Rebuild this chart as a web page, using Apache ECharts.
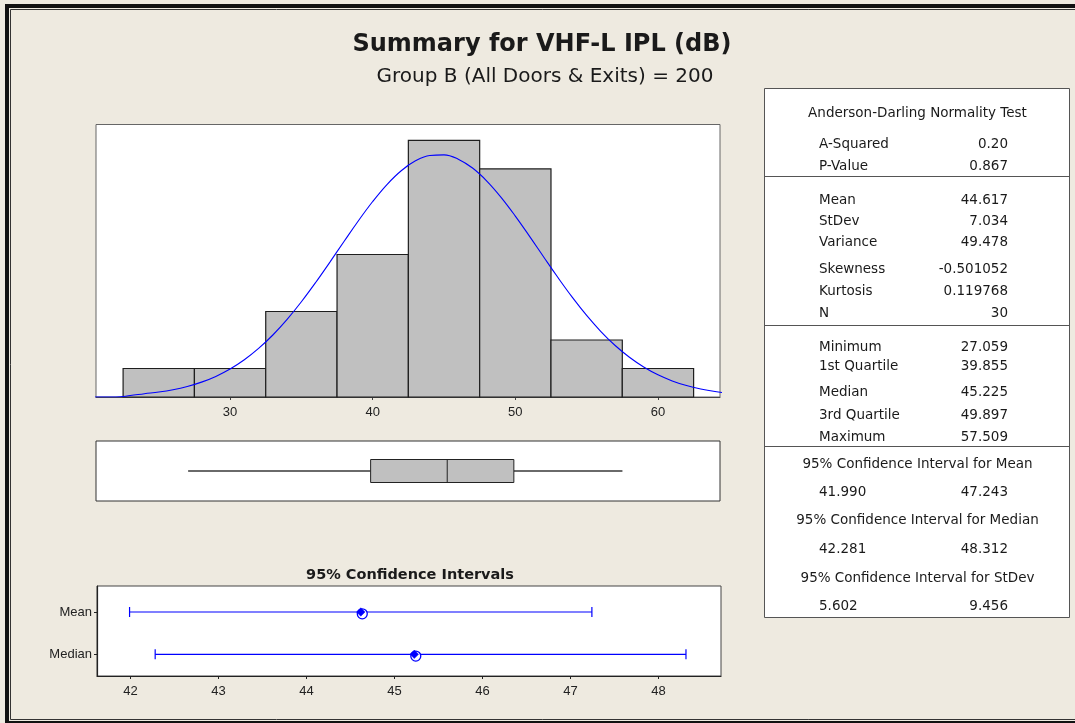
<!DOCTYPE html>
<html>
<head>
<meta charset="utf-8">
<script src="https://cdn.jsdelivr.net/npm/echarts@6/dist/echarts.min.js"></script>
<style>
html,body{margin:0;padding:0;background:#EEEAE0;}
#chart{width:1075px;height:723px;}
</style>
</head>
<body>
<div id="chart"></div>
<script>
// ---------------- data ----------------
const chartTitle = 'Summary for VHF-L IPL (dB)';
const chartSubtitle = 'Group B (All Doors & Exits) = 200';
const ciPlotTitle = '95% Confidence Intervals';

const binEdges = [22.5, 27.5, 32.5, 37.5, 42.5, 47.5, 52.5, 57.5, 62.5];
const binCounts = [1, 1, 3, 5, 9, 8, 2, 1];
const histTicks = [30, 40, 50, 60];

const curveX = [20,21,22,23,24,25,26,27,28,29,30,31,32,33,34,35,36,37,38,39,40,41,42,43,44,45,46,47,48,49,50,51,52,53,54,55,56,57,58,59,60,61,62,63,64,65];
const curveY = [0,0,0,0.05,0.116,0.174,0.256,0.370,0.522,0.723,0.982,1.306,1.703,2.175,2.723,3.341,4.017,4.733,5.465,6.185,6.858,7.454,7.938,8.285,8.474,8.494,8.344,8.032,7.577,7.006,6.347,5.636,4.904,4.182,3.495,2.862,2.297,1.807,1.393,1.052,0.778,0.565,0.401,0.280,0.191,0.128];

const boxStats = [27.059, 39.855, 45.225, 49.897, 57.509]; // min, Q1, median, Q3, max

const ciRowNames = ['Median', 'Mean'];
const ciLow = [42.281, 41.990];
const ciEstimate = [45.225, 44.617];
const ciHigh = [48.312, 47.243];
const ciTicks = [42, 43, 44, 45, 46, 47, 48];

const adTitle = 'Anderson-Darling Normality Test';
const statLabels1 = ['A-Squared', 'P-Value'];
const statValues1 = ['0.20', '0.867'];
const statLabels2 = ['Mean', 'StDev', 'Variance', 'Skewness', 'Kurtosis', 'N'];
const statValues2 = ['44.617', '7.034', '49.478', '-0.501052', '0.119768', '30'];
const statLabels3 = ['Minimum', '1st Quartile', 'Median', '3rd Quartile', 'Maximum'];
const statValues3 = ['27.059', '39.855', '45.225', '49.897', '57.509'];
const ciTitles = ['95% Confidence Interval for Mean', '95% Confidence Interval for Median', '95% Confidence Interval for StDev'];
const ciTableLow = ['41.990', '42.281', '5.602'];
const ciTableHigh = ['47.243', '48.312', '9.456'];

// ---------------- layout ----------------
const FONT = "'Liberation Sans', Arial, sans-serif";
const WFONT = "'DejaVu Sans', 'Liberation Sans', sans-serif";
const TXT = '#1a1a1a';
const HX_MIN = 20.6, HX_MAX = 64.35;

function isMult(v, m) { const r = v / m; return Math.abs(r - Math.round(r)) < 1e-6; }

function txt(x, y, text, align, size, weight, family) {
  return {
    type: 'text', x: x, y: y, silent: true,
    style: {
      text: text, fill: TXT, fontSize: size || 13, fontFamily: family || WFONT,
      fontWeight: weight || 'normal',
      align: align || 'left', verticalAlign: 'middle',
      textAlign: align || 'left', textVerticalAlign: 'middle'
    }
  };
}
function hline(x1, x2, y, color, w) {
  return { type: 'line', silent: true, shape: { x1: x1, y1: y, x2: x2, y2: y }, style: { stroke: color, lineWidth: w } };
}

const TB = { left: 764, right: 1069, top: 88, bottom: 617, labelX: 819, valueX: 1008 };
const TS = 13.5;
const tableGraphics = [];
tableGraphics.push({ type: 'rect', silent: true, shape: { x: TB.left + 0.5, y: TB.top + 0.5, width: TB.right - TB.left, height: TB.bottom - TB.top },
  style: { fill: '#ffffff', stroke: '#555', lineWidth: 1 } });
[176.5, 325.5, 446.5].forEach(y => tableGraphics.push(hline(TB.left, TB.right, y, '#555', 1)));
const tcx = (TB.left + TB.right) / 2 + 1;
tableGraphics.push(txt(tcx, 113, adTitle, 'center', TS));
const ys1 = [144, 166], ys2 = [200, 221.5, 242, 269.5, 291.5, 313.5], ys3 = [347.5, 366, 392.5, 415.5, 437.5];
statLabels1.forEach((l, i) => { tableGraphics.push(txt(TB.labelX, ys1[i], l, 'left', TS)); tableGraphics.push(txt(TB.valueX, ys1[i], statValues1[i], 'right', TS)); });
statLabels2.forEach((l, i) => { tableGraphics.push(txt(TB.labelX, ys2[i], l, 'left', TS)); tableGraphics.push(txt(TB.valueX, ys2[i], statValues2[i], 'right', TS)); });
statLabels3.forEach((l, i) => { tableGraphics.push(txt(TB.labelX, ys3[i], l, 'left', TS)); tableGraphics.push(txt(TB.valueX, ys3[i], statValues3[i], 'right', TS)); });
const ciHeadY = [464, 520.5, 578.5], ciValY = [492.5, 549, 606];
ciTitles.forEach((t, i) => {
  tableGraphics.push(txt(tcx, ciHeadY[i], t, 'center', TS));
  tableGraphics.push(txt(TB.labelX, ciValY[i], ciTableLow[i], 'left', TS));
  tableGraphics.push(txt(TB.valueX, ciValY[i], ciTableHigh[i], 'right', TS));
});

const frameGraphics = [
  { type: 'polyline', silent: true, shape: { points: [[7, 723], [7, 6], [1075, 6]] }, style: { stroke: '#111', lineWidth: 4, fill: null } },
  { type: 'polyline', silent: true, shape: { points: [[1075, 9.5], [10.5, 9.5], [10.5, 719.5], [1075, 719.5]] }, style: { stroke: '#333', lineWidth: 1, fill: null } },
  hline(7, 1075, 722, '#111', 2)
];

const titleGraphics = [
  txt(542, 45, chartTitle, 'center', 24, 'bold'),
  txt(545, 76.5, chartSubtitle, 'center', 20, 'normal'),
  txt(410, 575, ciPlotTitle, 'center', 14.5, 'bold')
];

// ---------------- series data ----------------
const histData = binCounts.map((c, i) => [binEdges[i], binEdges[i + 1], c]);
const curveData = curveX.map((x, i) => [x, curveY[i]]);
const ciData = ciRowNames.map((n, i) => [i, ciLow[i], ciEstimate[i], ciHigh[i]]);
const ciRowIdx = ciRowNames.map((n, i) => i);

const chart = echarts.init(document.getElementById('chart'), null, { renderer: 'canvas' });

const option = {
  backgroundColor: '#EEEAE0',
  animation: false,
  textStyle: { fontFamily: FONT },
  grid: [
    { left: 96, top: 124.5, width: 624, height: 272.5, show: true, backgroundColor: '#fff', borderColor: '#666', borderWidth: 1 },
    { left: 96, top: 441, width: 624, height: 60, show: true, backgroundColor: '#fff', borderColor: '#333', borderWidth: 1 },
    { left: 97, top: 586, width: 624, height: 90, show: true, backgroundColor: '#fff', borderColor: '#444', borderWidth: 1 }
  ],
  xAxis: [
    { gridIndex: 0, type: 'value', min: HX_MIN, max: HX_MAX, splitNumber: 4, splitLine: { show: false },
      axisLine: { onZero: false, lineStyle: { color: '#444' } },
      axisTick: { length: 3, customValues: histTicks, lineStyle: { color: '#444' } },
      axisLabel: { fontSize: 13, color: '#222', margin: 9, fontFamily: FONT, customValues: histTicks,
        formatter: v => isMult(v, 10) ? String(Math.round(v)) : '' } },
    { gridIndex: 1, type: 'value', min: HX_MIN, max: HX_MAX, show: false },
    { gridIndex: 2, type: 'value', min: 41.62, max: 48.71, splitNumber: 7, minInterval: 1, splitLine: { show: false },
      axisLine: { onZero: false, lineStyle: { color: '#222', width: 1.2 } },
      axisTick: { length: 3, customValues: ciTicks, lineStyle: { color: '#222' } },
      axisLabel: { fontSize: 13, color: '#222', margin: 9, fontFamily: FONT, customValues: ciTicks,
        formatter: v => isMult(v, 1) ? String(Math.round(v)) : '' } }
  ],
  yAxis: [
    { gridIndex: 0, type: 'value', min: 0, max: 9.56, show: false },
    { gridIndex: 1, type: 'value', min: 0, max: 1, show: false },
    { gridIndex: 2, type: 'value', min: -0.513, max: 1.615, minInterval: 1, splitLine: { show: false },
      axisLine: { show: true, onZero: false, lineStyle: { color: '#222', width: 1.2 } },
      axisTick: { show: true, length: 3, customValues: ciRowIdx, lineStyle: { color: '#222' } },
      axisLabel: { fontSize: 13, color: '#222', margin: 5, fontFamily: FONT, customValues: ciRowIdx,
        formatter: v => (isMult(v, 1) && ciRowNames[Math.round(v)] !== undefined) ? ciRowNames[Math.round(v)] : '' } }
  ],
  series: [
    {
      type: 'custom', xAxisIndex: 0, yAxisIndex: 0, data: histData,
      encode: { x: [0, 1], y: 2 },
      renderItem: function (params, api) {
        const p0 = api.coord([api.value(0), api.value(2)]);
        const p1 = api.coord([api.value(1), 0]);
        return { type: 'rect', shape: { x: p0[0], y: p0[1], width: p1[0] - p0[0], height: p1[1] - p0[1] },
          style: { fill: '#C0C0C0', stroke: '#1e1e1e', lineWidth: 1.2 } };
      },
      z: 2
    },
    {
      type: 'line', xAxisIndex: 0, yAxisIndex: 0, data: curveData, symbol: 'none', smooth: 0.4,
      lineStyle: { color: '#0000FF', width: 1.1 }, z: 3
    },
    {
      type: 'custom', xAxisIndex: 1, yAxisIndex: 1, data: [boxStats],
      encode: { x: [0, 1, 2, 3, 4] },
      renderItem: function (params, api) {
        const cy = api.coord([api.value(0), 0.5])[1];
        const xs = [0, 1, 2, 3, 4].map(d => api.coord([api.value(d), 0.5])[0]);
        const h = 11.5;
        return { type: 'group', children: [
          { type: 'line', shape: { x1: xs[0], y1: cy, x2: xs[1], y2: cy }, style: { stroke: '#6a6a6a', lineWidth: 2 } },
          { type: 'line', shape: { x1: xs[3], y1: cy, x2: xs[4], y2: cy }, style: { stroke: '#6a6a6a', lineWidth: 2 } },
          { type: 'rect', shape: { x: xs[1], y: cy - h, width: xs[3] - xs[1], height: 2 * h }, style: { fill: '#C0C0C0', stroke: '#222', lineWidth: 1 } },
          { type: 'line', shape: { x1: xs[2], y1: cy - h, x2: xs[2], y2: cy + h }, style: { stroke: '#222', lineWidth: 1 } }
        ] };
      }
    },
    {
      type: 'custom', xAxisIndex: 2, yAxisIndex: 2, data: ciData,
      encode: { x: [1, 2, 3], y: 0 },
      renderItem: function (params, api) {
        const lo = api.coord([api.value(1), api.value(0)]);
        const est = api.coord([api.value(2), api.value(0)]);
        const hi = api.coord([api.value(3), api.value(0)]);
        const y = lo[1];
        const blue = '#0000FF';
        const d = 4.2;
        return { type: 'group', children: [
          { type: 'line', shape: { x1: lo[0], y1: y, x2: hi[0], y2: y }, style: { stroke: blue, lineWidth: 1.2 } },
          { type: 'line', shape: { x1: lo[0], y1: y - 5, x2: lo[0], y2: y + 5 }, style: { stroke: blue, lineWidth: 1.2 } },
          { type: 'line', shape: { x1: hi[0], y1: y - 5, x2: hi[0], y2: y + 5 }, style: { stroke: blue, lineWidth: 1.2 } },
          { type: 'circle', shape: { cx: est[0] + 1.5, cy: y + 1.8, r: 5 }, style: { fill: '#fff', stroke: blue, lineWidth: 1.3 } },
          { type: 'polygon', shape: { points: [[est[0], y - d], [est[0] + d, y], [est[0], y + d], [est[0] - d, y]] }, style: { fill: blue, stroke: blue, lineWidth: 0.5 } }
        ] };
      }
    }
  ],
  graphic: [].concat(frameGraphics, titleGraphics, tableGraphics)
};

chart.setOption(option);
</script>
</body>
</html>
